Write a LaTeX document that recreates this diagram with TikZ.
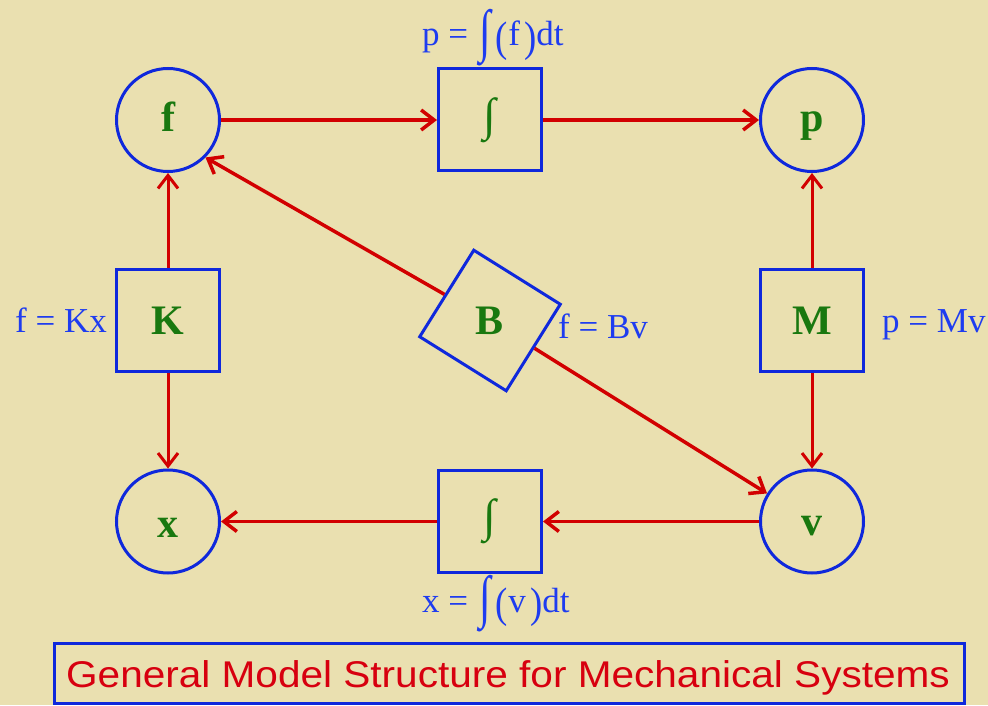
\documentclass[tikz,border=0pt]{standalone}
\usepackage{fontspec}
\usepackage{graphicx}
\setmainfont{Liberation Serif}
\newfontfamily\titlefont{Liberation Sans}
\usetikzlibrary{arrows.meta}
\definecolor{bg}{RGB}{234,224,176}
\definecolor{shapeblue}{RGB}{15,40,220}
\definecolor{labelblue}{RGB}{30,60,240}
\definecolor{nodegreen}{RGB}{25,120,15}
\definecolor{arrred}{RGB}{210,0,0}
\definecolor{titlered}{RGB}{215,0,15}
\newcommand\tallint{\hspace{0.08em}\raisebox{-0.14em}{\scalebox{1.2}[1.65]{∫}}\hspace{0.12em}}
\newcommand\tallparen[1]{\raisebox{-0.16em}{\scalebox{1.05}[1.22]{(}}\hspace{0.02em}#1\hspace{0.12em}\raisebox{-0.16em}{\scalebox{1.05}[1.22]{)}}}
\begin{document}
\begin{tikzpicture}[x=1pt,y=1pt,
  circ/.style={circle, draw=shapeblue, line width=3pt, minimum size=103pt, inner sep=0pt, text=nodegreen, font=\fontsize{42}{46}\selectfont\bfseries, text height=30pt, text depth=6pt},
  blk/.style={rectangle, draw=shapeblue, line width=3pt, minimum width=103pt, minimum height=102pt, inner sep=0pt, text=nodegreen, font=\fontsize{42}{46}\selectfont\bfseries},
  intblk/.style={blk, font=\fontsize{46}{50}\selectfont},
  lbl/.style={text=labelblue, font=\fontsize{35}{40}\selectfont, inner sep=0pt, anchor=base west},
  arr/.style={draw=arrred, line width=3.5pt, -{Straight Barb[length=13pt,width=20pt]}},
  varr/.style={arr, line width=3pt}
]
\useasboundingbox (0,0) rectangle (988,705);
\fill[bg] (0,0) rectangle (988,705);
% nodes
\node[circ] (f) at (168,585) {f};
\node[circ] (p) at (812,585) {p};
\node[circ, text height=34pt, text depth=2pt] (x) at (168,183.5) {x};
\node[circ, text height=32pt, text depth=4pt] (v) at (812,183.5) {v};
\node[blk] (K) at (168,384.5) {K};
\node[blk] (M) at (812,384.5) {M};
\node[intblk] (I1) at (490,585) {\raisebox{0.1em}{∫}};
\node[intblk] (I2) at (490,183.5) {\raisebox{0.1em}{∫}};
\node[blk, minimum width=102pt, minimum height=102pt, rotate=-32] (B) at (490,384.5) {\rotatebox[origin=c]{32}{B}};
% connectors
\draw[arr] (f) -- (I1);
\draw[arr] (I1) -- (p);
\draw[varr] (K) -- (f);
\draw[varr] (K) -- (x);
\draw[varr] (M) -- (p);
\draw[varr] (M) -- (v);
\draw[arr] (v) -- (I2);
\draw[arr] (I2) -- (x);
\draw[arr] (B) -- (f.south east);
\draw[arr] (B) -- (v);
% labels
\node[lbl] (lK) at (15,372) {f = Kx};
\node[lbl] (lB) at (558,366) {f = Bv};
\node[lbl] (lM) at (882,372) {p = Mv};
\node[lbl] (lI1) at (422,659) {p = \tallint\tallparen{f}dt};
\node[lbl] (lI2) at (422,93) {x = \tallint\tallparen{v}dt};
% title
\node[draw=shapeblue, line width=3pt, minimum width=910pt, minimum height=60pt, inner sep=0pt] (title) at (509,32) {};
\node[text=titlered, font=\titlefont\fontsize{40}{44}\selectfont, inner sep=0pt, anchor=base] (ttext) at (508,18) {\scalebox{1.014}[0.93]{General Model Structure for Mechanical Systems}};
\end{tikzpicture}
\end{document}
